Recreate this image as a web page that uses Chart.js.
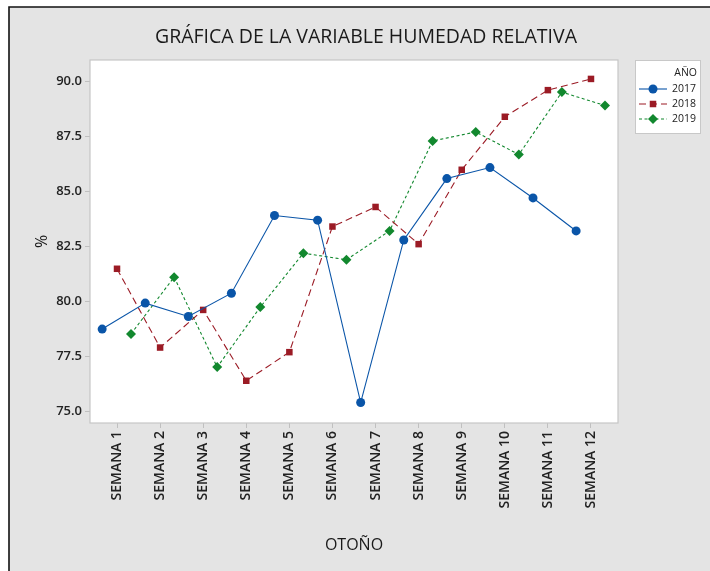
<!DOCTYPE html>
<html>
<head>
<meta charset="utf-8">
<script src="https://cdn.jsdelivr.net/npm/chart.js@4.4.1/dist/chart.umd.min.js"></script>
<style>
  html, body { margin: 0; padding: 0; background: #ffffff; }
  #wrap { width: 710px; height: 571px; position: relative; }
</style>
</head>
<body>
<div id="wrap"><canvas id="c" width="710" height="571"></canvas></div>
<script>
// ---- data ----
const weeks = ['SEMANA 1','SEMANA 2','SEMANA 3','SEMANA 4','SEMANA 5','SEMANA 6',
               'SEMANA 7','SEMANA 8','SEMANA 9','SEMANA 10','SEMANA 11','SEMANA 12'];
const years = ['2017', '2018', '2019'];
const hum2017 = [78.75, 79.93, 79.32, 80.38, 83.91, 83.70, 75.41, 82.80, 85.59, 86.09, 84.71, 83.21];
const hum2018 = [81.49, 77.91, 79.62, 76.40, 77.70, 83.41, 84.30, 82.61, 85.99, 88.40, 89.61, 90.12];
const hum2019 = [78.53, 81.11, 77.02, 79.75, 82.20, 81.90, 83.21, 87.30, 87.71, 86.68, 89.52, 88.91];
const yTicks = [75.0, 77.5, 80.0, 82.5, 85.0, 87.5, 90.0];
const chartTitle = 'GRÁFICA DE LA VARIABLE HUMEDAD RELATIVA';
const xTitle = 'OTOÑO';
const yTitle = '%';
const legendTitle = 'AÑO';

// ---- styles ----
const FONT = '"Open Sans", "DejaVu Sans", sans-serif';
const dodge = [-0.345, 0, 0.325];
const seriesStyle = [
  { color: '#0a55a8', pointStyle: 'circle', radius: 4.5, dash: [] },
  { color: '#9b1b25', pointStyle: 'rect', radius: 4.6, dash: [7, 4] },
  { color: '#12882e', pointStyle: 'rectRot', radius: 5, dash: [3, 2.5] }
];
const allSeries = [hum2017, hum2018, hum2019];

const datasets = allSeries.map((vals, s) => ({
  label: years[s],
  data: vals.map((v, i) => ({ x: i + 1 + dodge[s], y: v })),
  borderColor: seriesStyle[s].color,
  backgroundColor: seriesStyle[s].color,
  borderWidth: 1.1,
  borderDash: seriesStyle[s].dash,
  pointStyle: seriesStyle[s].pointStyle,
  pointRadius: seriesStyle[s].radius,
  pointBorderWidth: 0,
  pointBackgroundColor: seriesStyle[s].color,
  tension: 0,
  fill: false
}));

const bgPlugin = {
  id: 'bg',
  beforeDraw(chart) {
    const ctx = chart.ctx;
    const W = chart.width, H = chart.height;
    ctx.save();
    ctx.fillStyle = '#ffffff';
    ctx.fillRect(0, 0, W, H);
    ctx.fillStyle = '#e4e4e4';
    ctx.fillRect(9, 7, W - 9, H - 7);
    ctx.strokeStyle = '#111111';
    ctx.lineWidth = 1.6;
    ctx.beginPath();
    ctx.moveTo(9, H); ctx.lineTo(9, 7); ctx.lineTo(W, 7);
    ctx.stroke();
    const a = chart.chartArea;
    ctx.fillStyle = '#ffffff';
    ctx.fillRect(a.left, a.top, a.right - a.left, a.bottom - a.top);
    // chart title
    ctx.fillStyle = '#1a1a1a';
    ctx.font = 'normal 19.5px ' + FONT;
    ctx.textAlign = 'center';
    ctx.textBaseline = 'middle';
    ctx.fillText(chartTitle, 366, 37);
    ctx.restore();
  },
  beforeDatasetsDraw(chart) {
    const ctx = chart.ctx, a = chart.chartArea;
    ctx.save();
    ctx.strokeStyle = '#c6c6c6';
    ctx.lineWidth = 1.2;
    ctx.strokeRect(a.left, a.top, a.right - a.left, a.bottom - a.top);
    ctx.restore();
  }
};

const legendPlugin = {
  id: 'boxLegend',
  afterDraw(chart) {
    const ctx = chart.ctx;
    const a = chart.chartArea;
    const bx = a.right + 17, by = a.top, bw = 65, bh = 73;
    ctx.save();
    ctx.fillStyle = '#ffffff';
    ctx.fillRect(bx, by, bw, bh);
    ctx.strokeStyle = '#c8c8c8';
    ctx.lineWidth = 1;
    ctx.strokeRect(bx + 0.5, by + 0.5, bw, bh);
    ctx.fillStyle = '#222222';
    ctx.font = '10.5px ' + FONT;
    ctx.textAlign = 'right';
    ctx.textBaseline = 'middle';
    ctx.fillText(legendTitle, bx + bw - 3, by + 13);
    chart.data.datasets.forEach((ds, i) => {
      const y = by + 29 + i * 15;
      ctx.save();
      ctx.strokeStyle = ds.borderColor;
      ctx.lineWidth = 1.1;
      ctx.setLineDash(ds.borderDash || []);
      ctx.beginPath();
      ctx.moveTo(bx + 4, y); ctx.lineTo(bx + 32, y);
      ctx.stroke();
      ctx.restore();
      ctx.fillStyle = ds.backgroundColor;
      Chart.helpers.drawPoint(ctx, {
        pointStyle: ds.pointStyle, radius: ds.pointRadius, borderWidth: 0, rotation: 0
      }, bx + 18, y);
      ctx.fillStyle = '#222222';
      ctx.fillText(ds.label, bx + bw - 4, y);
    });
    ctx.restore();
  }
};

new Chart(document.getElementById('c'), {
  type: 'line',
  data: { datasets },
  plugins: [bgPlugin, legendPlugin],
  options: {
    responsive: false,
    animation: false,
    devicePixelRatio: 1,
    layout: { padding: { left: 0, right: 92, top: 60, bottom: 0 } },
    plugins: {
      legend: { display: false },
      tooltip: { enabled: false },
      title: { display: false }
    },
    scales: {
      x: {
        type: 'linear',
        min: 0.373,
        max: 12.627,
        afterFit(scale) { scale.height = 148; },
        afterBuildTicks(scale) { scale.ticks = weeks.map((w, i) => ({ value: i + 1 })); },
        ticks: {
          autoSkip: false,
          minRotation: 90,
          maxRotation: 90,
          padding: 3,
          color: '#222222',
          font: { family: FONT, size: 14, weight: '600' },
          callback: (v) => weeks[Math.round(v) - 1]
        },
        grid: { drawOnChartArea: false, drawTicks: true, tickLength: 5, color: '#c0c0c0' },
        border: { display: false },
        title: {
          display: true,
          text: xTitle,
          color: '#1a1a1a',
          font: { family: FONT, size: 16, weight: 'normal', lineHeight: 1.2 },
          padding: { top: 0, bottom: 16 }
        }
      },
      y: {
        type: 'linear',
        min: 74.48,
        max: 90.98,
        afterFit(scale) { scale.width = 90; },
        afterBuildTicks(scale) { scale.ticks = yTicks.map(v => ({ value: v })); },
        ticks: {
          padding: 3,
          color: '#222222',
          font: { family: FONT, size: 13, weight: '600' },
          callback: (v) => Number(v).toFixed(1)
        },
        grid: { drawOnChartArea: false, drawTicks: true, tickLength: 5, color: '#c0c0c0' },
        border: { display: false },
        title: {
          display: true,
          text: yTitle,
          color: '#1a1a1a',
          font: { family: FONT, size: 16, weight: 'normal', lineHeight: 1.2 },
          padding: { top: 33, bottom: 0 }
        }
      }
    }
  }
});
</script>
</body>
</html>
